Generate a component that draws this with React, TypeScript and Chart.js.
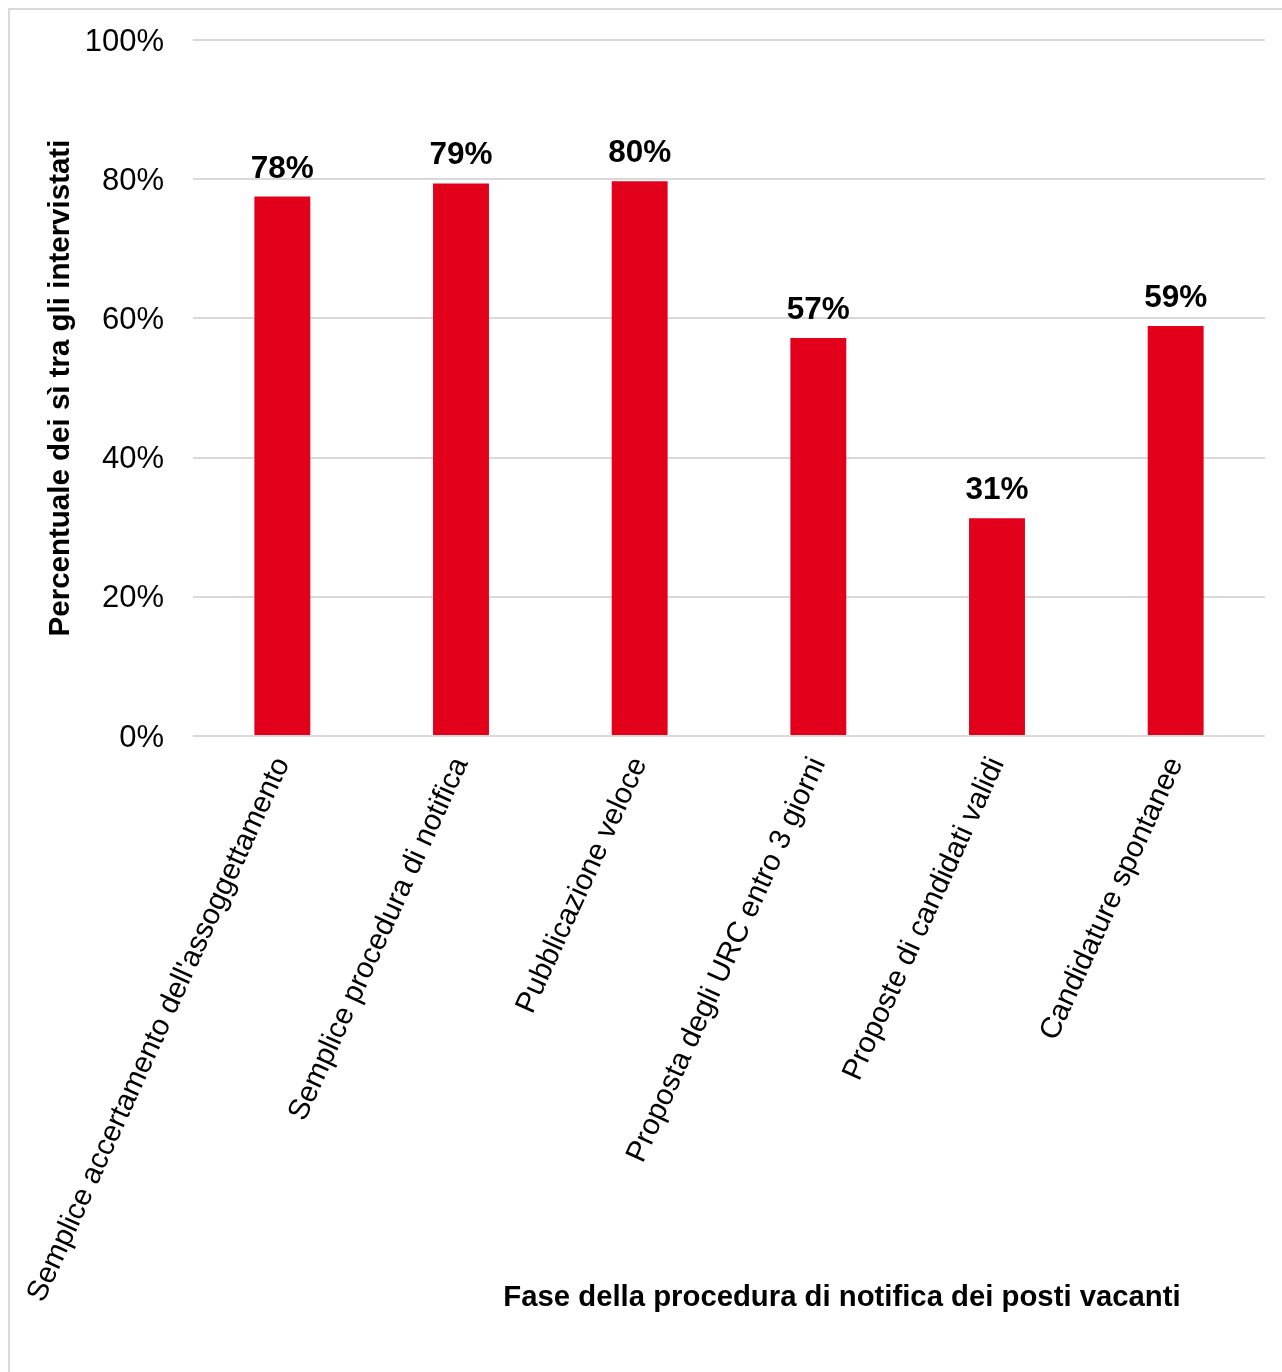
import React, { useEffect, useRef } from 'react';
import { Chart, registerables } from 'chart.js';

Chart.register(...registerables);

const categories = [
  "Semplice accertamento dell'assoggettamento",
  'Semplice procedura di notifica',
  'Pubblicazione veloce',
  'Proposta degli URC entro 3 giorni',
  'Proposte di candidati validi',
  'Candidature spontanee',
];
const values = [77.5, 79.4, 79.7, 57.2, 31.3, 58.9];
const yTickValues = [0, 20, 40, 60, 80, 100];
const yTitle = 'Percentuale dei sì tra gli intervistati';
const xTitle = 'Fase della procedura di notifica dei posti vacanti';

const FONT = '"Liberation Sans", Arial, Helvetica, sans-serif';
const BAR_COLOR = '#E2001A';
const GRID_COLOR = '#D9D9D9';

const overlay = {
  id: 'overlay',
  beforeDraw(chart: any) {
    const ctx = chart.ctx;
    ctx.save();
    ctx.fillStyle = '#ffffff';
    ctx.fillRect(0, 0, chart.width, chart.height);
    ctx.strokeStyle = GRID_COLOR;
    ctx.lineWidth = 2;
    ctx.strokeRect(9, 9, chart.width + 20, chart.height + 20);
    ctx.restore();
  },
  afterDatasetsDraw(chart: any) {
    const ctx = chart.ctx;
    const meta = chart.getDatasetMeta(0);
    ctx.save();
    ctx.font = `bold 31.5px ${FONT}`;
    ctx.fillStyle = '#000000';
    ctx.textAlign = 'center';
    ctx.textBaseline = 'alphabetic';
    meta.data.forEach((bar: any, i: number) => {
      ctx.fillText(`${Math.round(values[i])}%`, bar.x, bar.y - 19);
    });
    ctx.restore();
  },
  afterDraw(chart: any) {
    const ctx = chart.ctx;
    const area = chart.chartArea;
    ctx.save();
    ctx.fillStyle = '#000000';
    ctx.font = `bold 29.5px ${FONT}`;
    ctx.textAlign = 'center';
    ctx.textBaseline = 'alphabetic';
    ctx.translate(69, (area.top + area.bottom) / 2);
    ctx.rotate(-Math.PI / 2);
    ctx.fillText(yTitle, 0, 0);
    ctx.restore();

    ctx.save();
    ctx.fillStyle = '#000000';
    ctx.font = `bold 29.3px ${FONT}`;
    ctx.textAlign = 'center';
    ctx.textBaseline = 'alphabetic';
    ctx.fillText(xTitle, 842, 1306);
    ctx.restore();
  },
};

export default function App() {
  const canvasRef = useRef<HTMLCanvasElement | null>(null);

  useEffect(() => {
    if (!canvasRef.current) return;
    const chart = new Chart(canvasRef.current, {
      type: 'bar',
      data: {
        labels: categories,
        datasets: [
          {
            data: values,
            backgroundColor: BAR_COLOR,
            borderWidth: 0,
            categoryPercentage: 1,
            barPercentage: 0.313,
          },
        ],
      },
      options: {
        animation: false,
        responsive: false,
        maintainAspectRatio: false,
        layout: { padding: { left: 0, top: 40, right: 17, bottom: 0 } },
        plugins: {
          legend: { display: false },
          tooltip: { enabled: false },
          title: { display: false },
        },
        scales: {
          x: {
            grid: { display: false, drawTicks: false },
            border: { display: false },
            ticks: {
              autoSkip: false,
              minRotation: 65.5,
              maxRotation: 65.5,
              padding: 16,
              color: '#000000',
              font: { family: FONT, size: 29.5 },
            },
            afterFit(scale: any) {
              scale.height = 636;
              scale.paddingLeft = 0;
              scale.paddingRight = 0;
            },
          },
          y: {
            min: 0,
            max: 100,
            grid: { color: GRID_COLOR, lineWidth: 2, drawTicks: false },
            border: { display: false },
            afterBuildTicks(scale: any) {
              scale.ticks = yTickValues.map((v) => ({ value: v }));
            },
            ticks: {
              padding: 29,
              labelOffset: 2,
              color: '#000000',
              font: { family: FONT, size: 31 },
              callback: (v: any) => `${v}%`,
            },
            afterFit(scale: any) {
              scale.width = 193;
              scale.paddingTop = 0;
              scale.paddingBottom = 0;
            },
          },
        },
      },
      plugins: [overlay],
    });
    return () => chart.destroy();
  }, []);

  return (
    <div style={{ position: 'absolute', left: 0, top: 0, width: 1282, height: 1372 }}>
      <canvas ref={canvasRef} width={1282} height={1372} style={{ display: 'block' }} />
    </div>
  );
}
